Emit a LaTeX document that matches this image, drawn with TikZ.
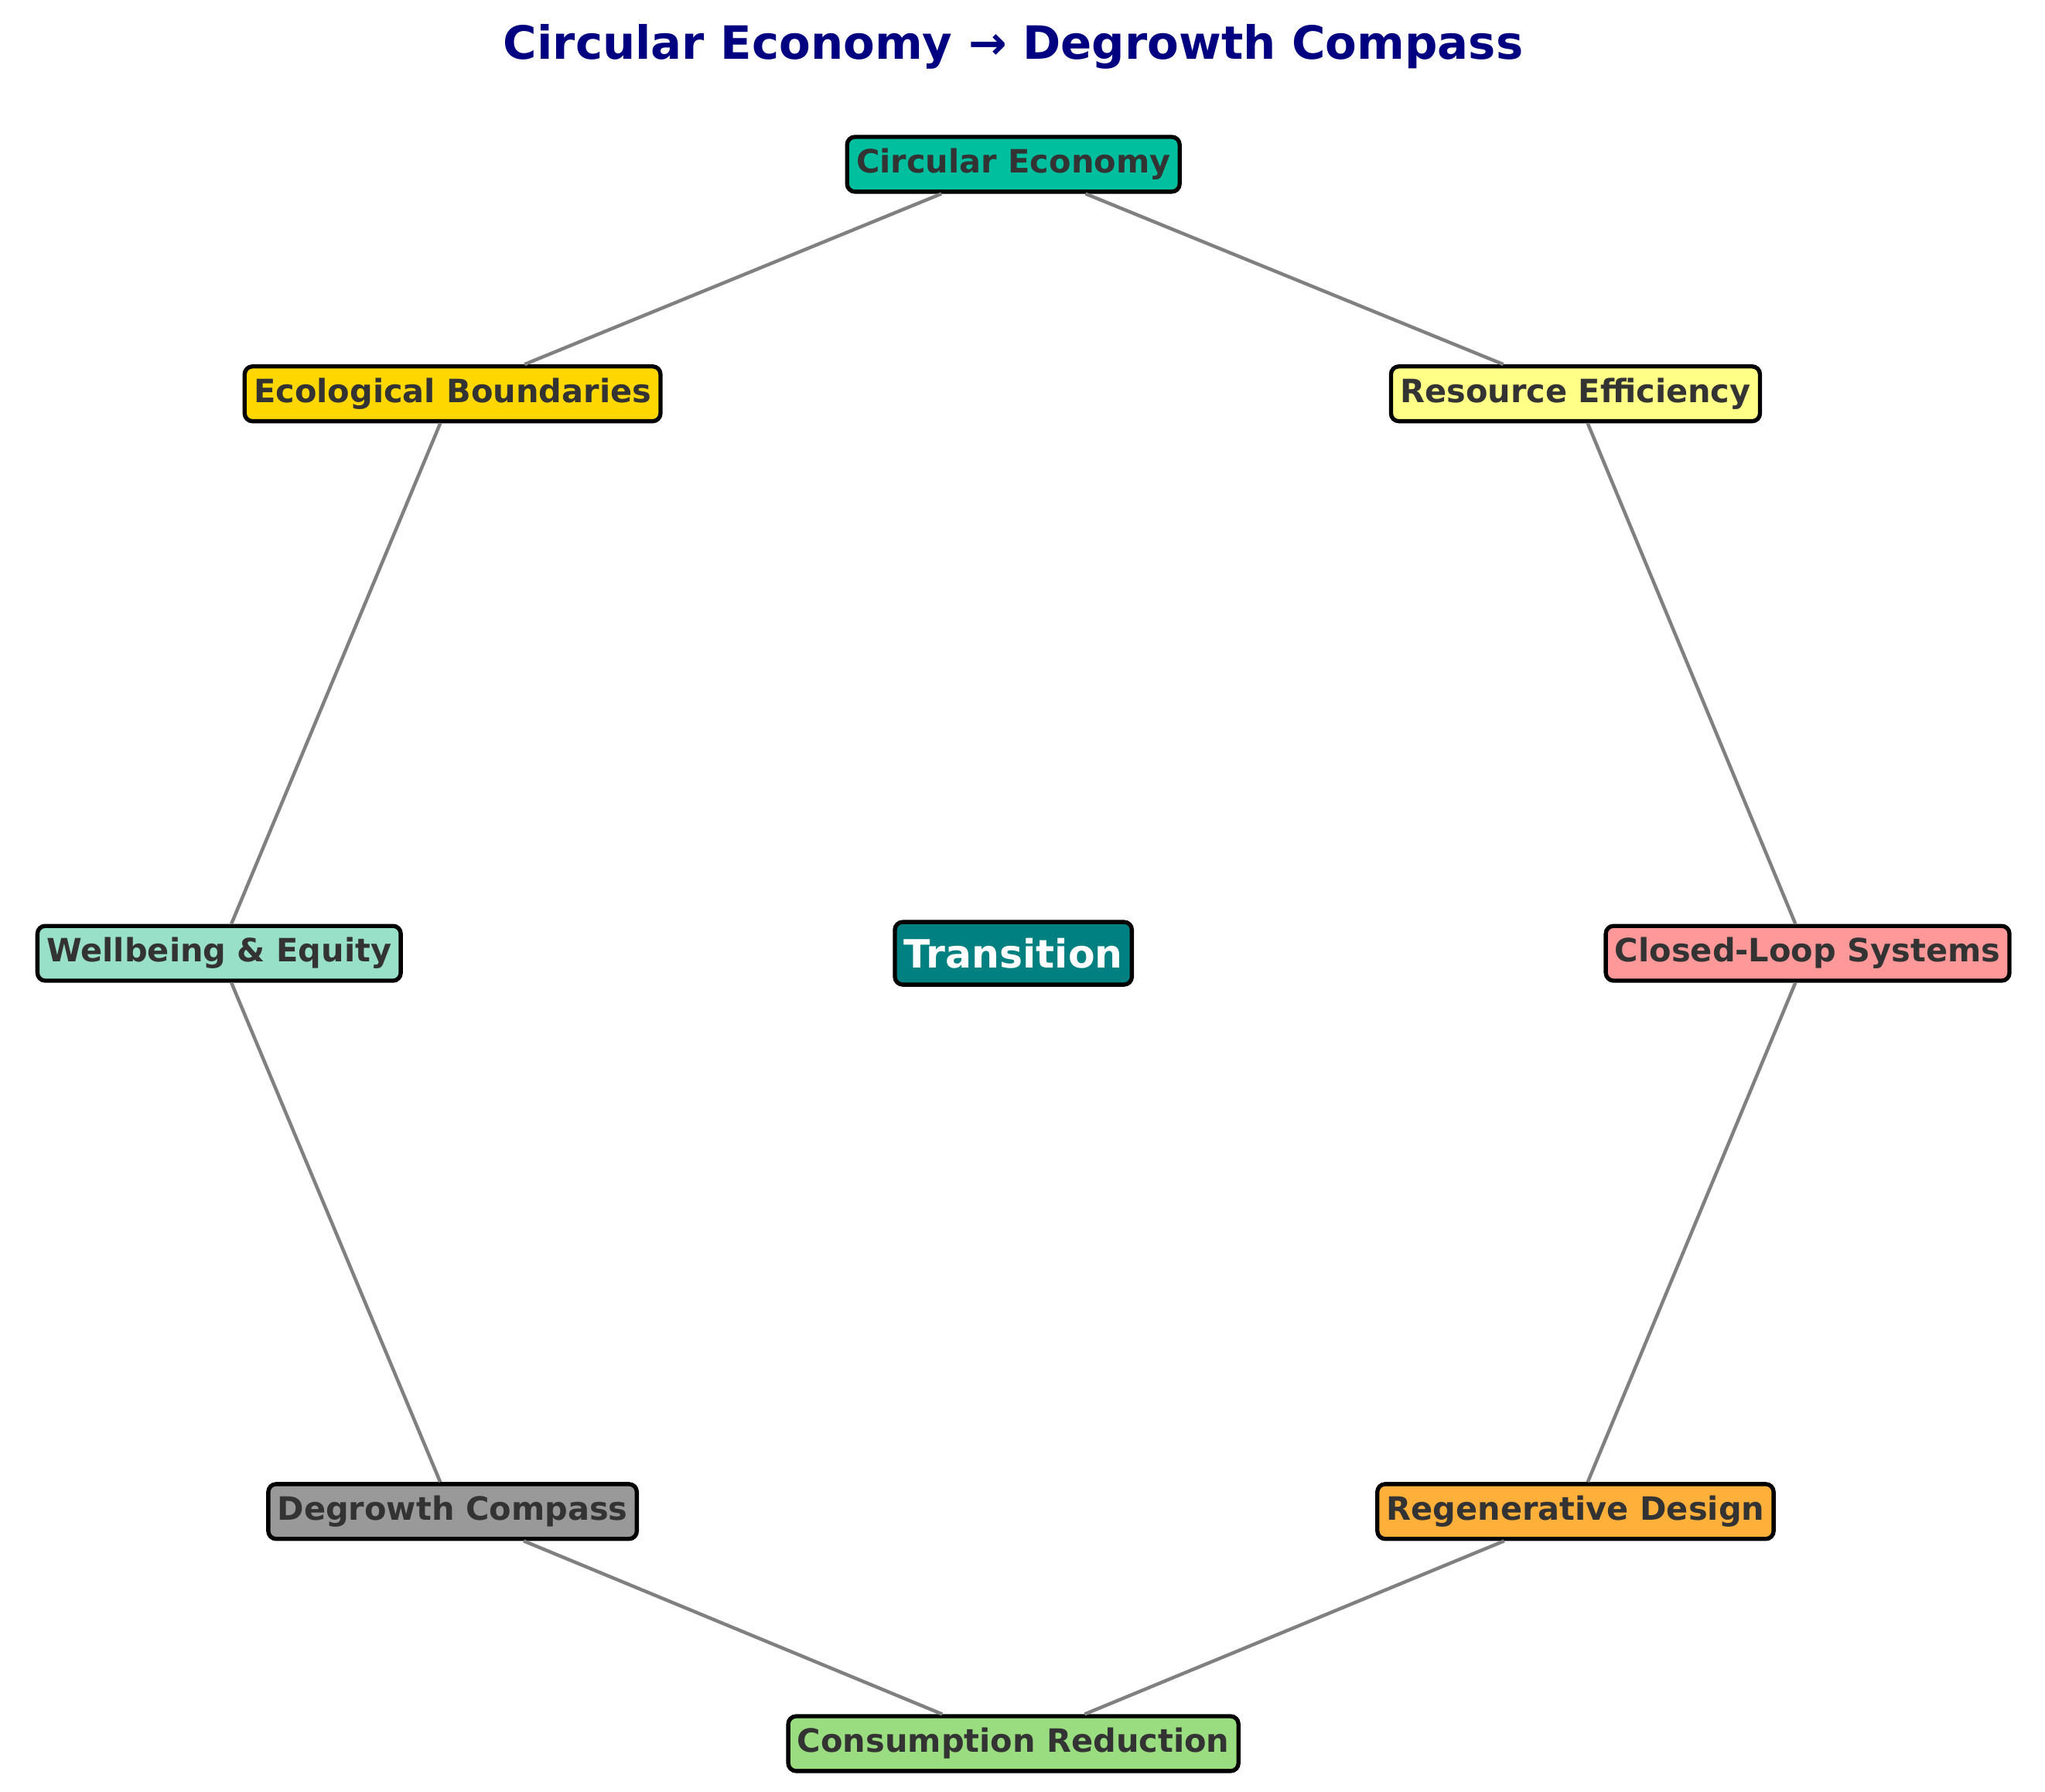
\documentclass[tikz,border=0pt]{standalone}
\usepackage{fontspec}
\setmainfont{DejaVu Sans}
\begin{document}
\begin{tikzpicture}[x=0.01cm,y=-0.01cm,
  box/.style={draw=black,line width=0.9pt,rounded corners=0.06cm,inner sep=0.07cm,minimum height=0.42cm,text=black!80,font=\bfseries\fontsize{7}{8}\selectfont},
  link/.style={draw=black!50,line width=0.75pt}]
\useasboundingbox (0,0) rectangle (1568,1374);
\definecolor{ce}{HTML}{00BF9F}\definecolor{re}{HTML}{FFFF88}\definecolor{cl}{HTML}{FF9999}
\definecolor{rd}{HTML}{FFB03B}\definecolor{cr}{HTML}{99DD80}\definecolor{dc}{HTML}{999999}
\definecolor{we}{HTML}{99E0C8}\definecolor{eb}{HTML}{FFD700}\definecolor{tr}{HTML}{008080}
\node (title) at (777,36) {\textcolor[HTML]{000080}{\bfseries\fontsize{10}{12}\selectfont Circular Economy → Degrowth Compass}};
\node[box,fill=ce] (ce) at (777,126) {Circular Economy};
\node[box,fill=re] (re) at (1208,302) {Resource Efficiency};
\node[box,fill=cl] (cl) at (1386,731) {Closed-Loop Systems};
\node[box,fill=rd] (rd) at (1208,1159) {Regenerative Design};
\node[box,fill=cr] (cr) at (777,1337) {Consumption Reduction};
\node[box,fill=dc] (dc) at (347,1159) {Degrowth Compass};
\node[box,fill=we] (we) at (168,731) {Wellbeing \& Equity};
\node[box,fill=eb] (eb) at (347,302) {Ecological Boundaries};
\node[box,fill=tr,text=white,minimum height=0.48cm,font=\bfseries\fontsize{8.5}{10}\selectfont] (tr) at (777,731) {Transition};
\draw[link] (ce)--(re); \draw[link] (re)--(cl); \draw[link] (cl)--(rd); \draw[link] (rd)--(cr);
\draw[link] (cr)--(dc); \draw[link] (dc)--(we); \draw[link] (we)--(eb); \draw[link] (eb)--(ce);
\end{tikzpicture}
\end{document}
